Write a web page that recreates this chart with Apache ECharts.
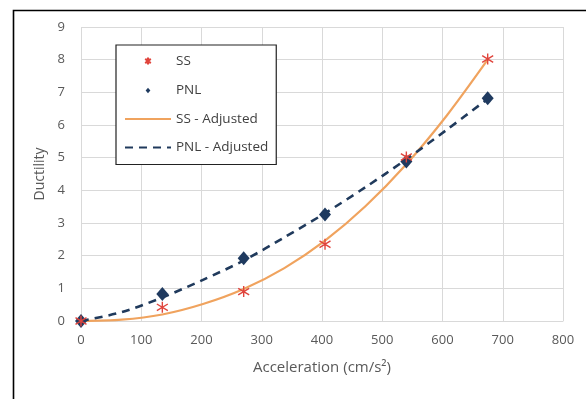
<!DOCTYPE html>
<html>
<head>
<meta charset="utf-8">
<script src="https://cdn.jsdelivr.net/npm/echarts@6/dist/echarts.min.js"></script>
<style>
html,body{margin:0;padding:0;background:#fff;}
#chart{width:586px;height:399px;}
</style>
</head>
<body>
<div id="chart"></div>
<script>
// Measured points
const ssX = [0, 135, 270, 405, 540, 675];
const ssY = [0, 0.42, 0.9, 2.35, 5.02, 8.02];
const pnlX = [0, 135, 270, 405, 540, 675];
const pnlY = [0, 0.83, 1.92, 3.26, 4.88, 6.82];
// Adjusted (fitted) curves
const adjX = [0, 67.5, 135, 202.5, 270, 337.5, 405, 472.5, 540, 607.5, 675];
const ssAdjY = [0, 0.04, 0.2, 0.52, 0.98, 1.62, 2.46, 3.52, 4.8, 6.3, 8.0];
const pnlAdjY = [0, 0.27, 0.72, 1.26, 1.85, 2.56, 3.3, 4.1, 4.95, 5.86, 6.8];
const xTicks = [0, 100, 200, 300, 400, 500, 600, 700, 800];
const yTicks = [0, 1, 2, 3, 4, 5, 6, 7, 8, 9];
const seriesNames = ['SS', 'PNL', 'SS - Adjusted', 'PNL - Adjusted'];

const zip = (xs, ys) => xs.map((x, i) => [x, ys[i]]);
const FONT = 'Open Sans';
const starPath = 'path://M0,-10 L0,10 M-8,-6 L8,6 M-8,6 L8,-6';
const starIcon = 'path://M-10,-10 M10,10 M0,-5 L0,5 M-4,-3 L4,3 M-4,3 L4,-3';
const diamondPath = 'path://M0,-7 L6,0 L0,7 L-6,0 Z';
const diamondIcon = 'path://M-10,-10 M10,10 M0,-4 L3.4,0 L0,4 L-3.4,0 Z';

const chart = echarts.init(document.getElementById('chart'), null, {renderer: 'canvas'});
chart.setOption({
  animation: false,
  backgroundColor: '#fff',
  textStyle: {fontFamily: FONT},
  grid: {left: 81, right: 23, top: 27, bottom: 78, containLabel: false},
  graphic: [{
    type: 'rect', left: 11, top: 8, z: 100, silent: true,
    shape: {x: 0, y: 0, width: 620, height: 430},
    style: {fill: 'none', stroke: '#000', lineWidth: 1.6}
  }],
  legend: {
    orient: 'vertical', left: 116, top: 45,
    padding: [8, 8, 10, 8], itemGap: 14.5, itemWidth: 46, itemHeight: 14,
    backgroundColor: '#fff', borderColor: '#222', borderWidth: 1.2,
    textStyle: {fontFamily: FONT, fontSize: 13.5, color: '#404040'},
    data: [
      {name: seriesNames[0], icon: starIcon},
      {name: seriesNames[1], icon: diamondIcon},
      {name: seriesNames[2], itemStyle: {opacity: 0}},
      {name: seriesNames[3], itemStyle: {opacity: 0}}
    ]
  },
  xAxis: {
    type: 'value', min: xTicks[0], max: xTicks[xTicks.length - 1], interval: 100,
    name: 'Acceleration (cm/s²)', nameLocation: 'middle', nameGap: 39,
    nameTextStyle: {fontFamily: FONT, fontSize: 15, color: '#595959'},
    axisLine: {show: true, lineStyle: {color: '#d9d9d9', width: 1}},
    axisTick: {show: false},
    axisLabel: {fontFamily: FONT, fontSize: 13, color: '#595959', margin: 13},
    splitLine: {show: true, lineStyle: {color: '#d9d9d9', width: 1}}
  },
  yAxis: {
    type: 'value', min: yTicks[0], max: yTicks[yTicks.length - 1], interval: 1,
    name: 'Ductility', nameLocation: 'middle', nameGap: 29,
    nameTextStyle: {fontFamily: FONT, fontSize: 14, color: '#595959'},
    axisLine: {show: false},
    axisTick: {show: false},
    axisLabel: {fontFamily: FONT, fontSize: 13, color: '#595959', margin: 16},
    splitLine: {show: true, lineStyle: {color: '#d9d9d9', width: 1}}
  },
  series: [
    {
      name: 'SS - Adjusted', type: 'line', data: zip(adjX, ssAdjY), smooth: 0.3,
      showSymbol: false, z: 2,
      lineStyle: {color: '#f0a35e', width: 2.2},
      itemStyle: {color: '#f0a35e'}
    },
    {
      name: 'PNL - Adjusted', type: 'line', data: zip(adjX, pnlAdjY), smooth: 0.3,
      showSymbol: false, z: 2,
      lineStyle: {color: '#203a5c', width: 2.6, type: [8, 6]},
      itemStyle: {color: '#203a5c'}
    },
    {
      name: 'PNL', type: 'scatter', data: zip(pnlX, pnlY), symbol: diamondPath, symbolSize: [12, 14], z: 3,
      itemStyle: {color: '#1f3a5f', opacity: 1}
    },
    {
      name: 'SS', type: 'scatter', data: zip(ssX, ssY), symbol: starPath, symbolSize: 11, z: 4,
      itemStyle: {color: 'rgba(0,0,0,0)', borderColor: '#e0443c', borderWidth: 1.4, opacity: 1}
    }
  ]
});
</script>
</body>
</html>
